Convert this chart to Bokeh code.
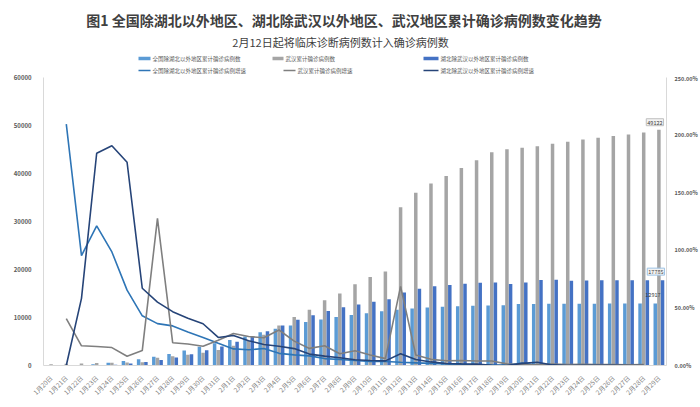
import numpy as np
from bokeh.plotting import figure
from bokeh.layouts import column
from bokeh.models import (ColumnDataSource, FactorRange, Range1d, LinearAxis, NumeralTickFormatter,
                          Label, FixedTicker)
from bokeh.transform import dodge
from bokeh.embed import file_html
from bokeh.resources import INLINE

nan = float("nan")

dates = ["1月20日", "1月21日", "1月22日", "1月23日", "1月24日", "1月25日", "1月26日", "1月27日",
         "1月28日", "1月29日", "1月30日", "1月31日", "2月1日", "2月2日", "2月3日", "2月4日",
         "2月5日", "2月6日", "2月7日", "2月8日", "2月9日", "2月10日", "2月11日", "2月12日",
         "2月13日", "2月14日", "2月15日", "2月16日", "2月17日", "2月18日", "2月19日", "2月20日",
         "2月21日", "2月22日", "2月23日", "2月24日", "2月25日", "2月26日", "2月27日", "2月28日",
         "2月29日"]

ex_hubei_cases = [21, 65, 127, 281, 558, 923, 1321, 1801, 2420, 3125, 3886, 4638, 5306, 6028,
                  6916, 7646, 8353, 9049, 9593, 10098, 10540, 10910, 11287, 11598, 11865, 12086,
                  12251, 12366, 12447, 12503, 12545, 12803, 12834, 12852, 12863, 12872, 12877,
                  12901, 12910, 12914, 12917]

wuhan_cases = [258, 363, 425, 495, 572, 618, 698, 1590, 1905, 2261, 2639, 3215, 4109, 5142, 6384,
               8351, 10117, 11618, 13603, 14982, 16902, 18454, 19558, 32994, 35991, 37914, 39462,
               41152, 42752, 44412, 45027, 45346, 45660, 46201, 46607, 47071, 47441, 47824, 48137,
               48557, 49122]

hubei_ex_wuhan_cases = [12, 12, 19, 54, 157, 434, 725, 1124, 1649, 2325, 3167, 3938, 4965, 6035,
                        7138, 8327, 9548, 10494, 11350, 12118, 12729, 13274, 13808, 15212, 15995,
                        16492, 16787, 17030, 17237, 17270, 17004, 17316, 17794, 17883, 17680,
                        17715, 17746, 17772, 17777, 17780, 17785]

ex_hubei_growth = [nan, 2.0952, 0.9538, 1.2126, 0.9858, 0.6541, 0.4312, 0.3634, 0.3437, 0.2913,
                   0.2435, 0.1935, 0.1440, 0.1361, 0.1473, 0.1056, 0.0925, 0.0833, 0.0601, 0.0526,
                   0.0438, 0.0351, 0.0346, 0.0276, 0.0230, 0.0186, 0.0137, 0.0094, 0.0066, 0.0045,
                   0.0034, 0.0206, 0.0024, 0.0014, 0.0009, 0.0007, 0.0004, 0.0019, 0.0007, 0.0003,
                   nan]

wuhan_growth = [nan, 0.4070, 0.1708, 0.1647, 0.1556, 0.0804, 0.1294, 1.2779, 0.1981, 0.1869,
                0.1672, 0.2183, 0.2781, 0.2514, 0.2415, 0.3081, 0.2115, 0.1484, 0.1709, 0.1014,
                0.1282, 0.0918, 0.0598, 0.6870, 0.0908, 0.0534, 0.0408, 0.0428, 0.0389, 0.0388,
                0.0138, 0.0071, 0.0069, 0.0118, 0.0088, 0.0100, 0.0079, 0.0081, 0.0065, 0.0087,
                nan]

hubei_ex_wuhan_growth = [nan, 0.0, 0.5833, 1.8421, 1.9074, 1.7643, 0.6705, 0.5503, 0.4671, 0.4099,
                         0.3622, 0.2434, 0.2608, 0.2155, 0.1828, 0.1666, 0.1466, 0.0991, 0.0816,
                         0.0677, 0.0504, 0.0428, 0.0402, 0.1017, 0.0515, 0.0311, 0.0179, 0.0145,
                         0.0122, 0.0019, 0.0, 0.0183, 0.0276, 0.0050, 0.0, 0.0020, 0.0017, 0.0015,
                         0.0003, 0.0002, nan]

left_ticks = [0, 10000, 20000, 30000, 40000, 50000, 60000]
right_ticks = [0.0, 0.5, 1.0, 1.5, 2.0, 2.5]

title_text = "图1 全国除湖北以外地区、湖北除武汉以外地区、武汉地区累计确诊病例数变化趋势"
subtitle_text = "2月12日起将临床诊断病例数计入确诊病例数"
series_names = ["全国除湖北以外地区累计确诊病例数", "武汉累计确诊病例数", "湖北除武汉以外地区累计确诊病例数",
                "全国除湖北以外地区累计确诊病例增速", "武汉累计确诊病例增速", "湖北除武汉以外地区累计确诊病例增速"]

FONT = "Noto Sans CJK SC"
C_LB, C_GR, C_BL = "#5B9BD5", "#A5A5A5", "#4472C4"
C_L1, C_L2, C_L3 = "#2E75B6", "#7F7F7F", "#264478"
TXT = "#595959"
W = 700
HEAD_H = 74
MAIN_H = 333

# ---------------- header (title, subtitle, legend) ----------------
head = figure(width=W, height=HEAD_H, x_range=Range1d(0, W), y_range=Range1d(HEAD_H, 0),
              output_backend="svg", toolbar_location=None, x_axis_type=None, y_axis_type=None,
              min_border=0, min_border_left=0, min_border_right=0, min_border_top=0,
              min_border_bottom=0)
head.frame_align = False
head.outline_line_color = None
head.xgrid.visible = False
head.ygrid.visible = False

head.add_layout(Label(x=343.5, y=19, text=title_text, text_align="center", text_baseline="middle",
                      text_font=FONT, text_font_size="14px", text_font_style="bold",
                      text_color="#404040"))
head.add_layout(Label(x=340, y=41, text=subtitle_text, text_align="center", text_baseline="middle",
                      text_font=FONT, text_font_size="11px", text_color="#404040"))


def legend_entry(label, color, kind, x0, x1, y):
    if kind == "bar":
        head.rect(x=[(x0 + x1) / 2], y=[y], width=[x1 - x0], height=[3.5],
                  fill_color=color, line_color=None)
    else:
        head.segment(x0=[x0], y0=[y], x1=[x1], y1=[y], line_color=color, line_width=1.5)
    head.add_layout(Label(x=x1 + 2, y=y, text=label, text_align="left", text_baseline="middle",
                          text_font=FONT, text_font_size="5.5px", text_color=TXT))


legend_entry(series_names[0], C_LB, "bar", 138, 150, 58)
legend_entry(series_names[1], C_GR, "bar", 272, 283, 58)
legend_entry(series_names[2], C_BL, "bar", 423, 438, 58)
legend_entry(series_names[3], C_L1, "line", 138, 150, 70)
legend_entry(series_names[4], C_L2, "line", 283, 295, 70)
legend_entry(series_names[5], C_L3, "line", 423, 438, 70)

# ---------------- main chart ----------------
src = ColumnDataSource(dict(
    date=dates,
    ex_hubei=ex_hubei_cases,
    wuhan=wuhan_cases,
    hubei_ex=hubei_ex_wuhan_cases,
    g_ex=np.array(ex_hubei_growth, dtype=float),
    g_wh=np.array(wuhan_growth, dtype=float),
    g_hx=np.array(hubei_ex_wuhan_growth, dtype=float),
))

p = figure(width=W, height=MAIN_H, x_range=FactorRange(factors=dates),
           y_range=Range1d(0, 60000), output_backend="svg", toolbar_location=None,
           min_border_left=43, min_border_right=33, min_border_top=3, min_border_bottom=42)
p.frame_align = False
p.outline_line_color = None
p.xgrid.visible = False
p.ygrid.visible = False
p.extra_y_ranges = {"pct": Range1d(0, 2.5)}

la = p.yaxis[0]
la.ticker = FixedTicker(ticks=left_ticks)
la.formatter = NumeralTickFormatter(format="0")
la.axis_line_color = "#D9D9D9"
la.major_tick_line_color = None
la.minor_tick_line_color = None
la.major_label_standoff = 6
la.major_label_text_font = FONT
la.major_label_text_font_size = "6px"
la.major_label_text_font_style = "bold"
la.major_label_text_color = TXT

ra = LinearAxis(y_range_name="pct", ticker=FixedTicker(ticks=right_ticks),
                formatter=NumeralTickFormatter(format="0.00%"))
ra.axis_line_color = "#D9D9D9"
ra.major_tick_line_color = None
ra.minor_tick_line_color = None
ra.major_label_standoff = 2
ra.major_label_text_font = FONT
ra.major_label_text_font_size = "5.5px"
ra.major_label_text_font_style = "bold"
ra.major_label_text_color = TXT
p.add_layout(ra, "right")

xa = p.xaxis[0]
xa.axis_line_color = "#D9D9D9"
xa.major_tick_line_color = None
xa.minor_tick_line_color = None
xa.major_label_orientation = np.pi / 4
xa.major_label_standoff = 5
xa.major_label_text_font = FONT
xa.major_label_text_font_size = "6.5px"
xa.major_label_text_color = "#7F7F7F"

bw = 0.23
p.vbar(x=dodge("date", -0.24, range=p.x_range), top="ex_hubei", width=bw, source=src,
       fill_color=C_LB, line_color=None)
p.vbar(x=dodge("date", 0.0, range=p.x_range), top="wuhan", width=bw, source=src,
       fill_color=C_GR, line_color=None)
p.vbar(x=dodge("date", 0.24, range=p.x_range), top="hubei_ex", width=bw, source=src,
       fill_color=C_BL, line_color=None)

p.line(x="date", y="g_ex", source=src, y_range_name="pct", line_color=C_L1, line_width=1.6)
p.line(x="date", y="g_wh", source=src, y_range_name="pct", line_color=C_L2, line_width=1.6)
p.line(x="date", y="g_hx", source=src, y_range_name="pct", line_color=C_L3, line_width=1.6)

# data labels on the last category (factor i sits at synthetic coordinate i + 0.5)
last_x = dates.index(dates[-1]) + 0.5
p.add_layout(Label(x=last_x, y=wuhan_cases[-1], x_offset=-4, y_offset=4,
                   text=str(wuhan_cases[-1]), text_align="center", text_baseline="bottom",
                   text_font=FONT, text_font_size="5.5px", text_color="#404040",
                   background_fill_color="#F2F2F2", border_line_color="#BFBFBF", padding=1))
p.add_layout(Label(x=last_x, y=hubei_ex_wuhan_cases[-1], x_offset=-3, y_offset=5,
                   text=str(hubei_ex_wuhan_cases[-1]), text_align="center", text_baseline="bottom",
                   text_font=FONT, text_font_size="5.5px", text_color="#404040",
                   background_fill_color="#F2F2F2", border_line_color="#9DC3E6", padding=1))
p.add_layout(Label(x=last_x, y=ex_hubei_cases[-1], x_offset=-6, y_offset=6,
                   text=str(ex_hubei_cases[-1]), text_align="center", text_baseline="bottom",
                   text_font=FONT, text_font_size="5.5px", text_color="#404040"))

layout = column(head, p, spacing=0)
open("out.html", "w").write(file_html(layout, INLINE))
